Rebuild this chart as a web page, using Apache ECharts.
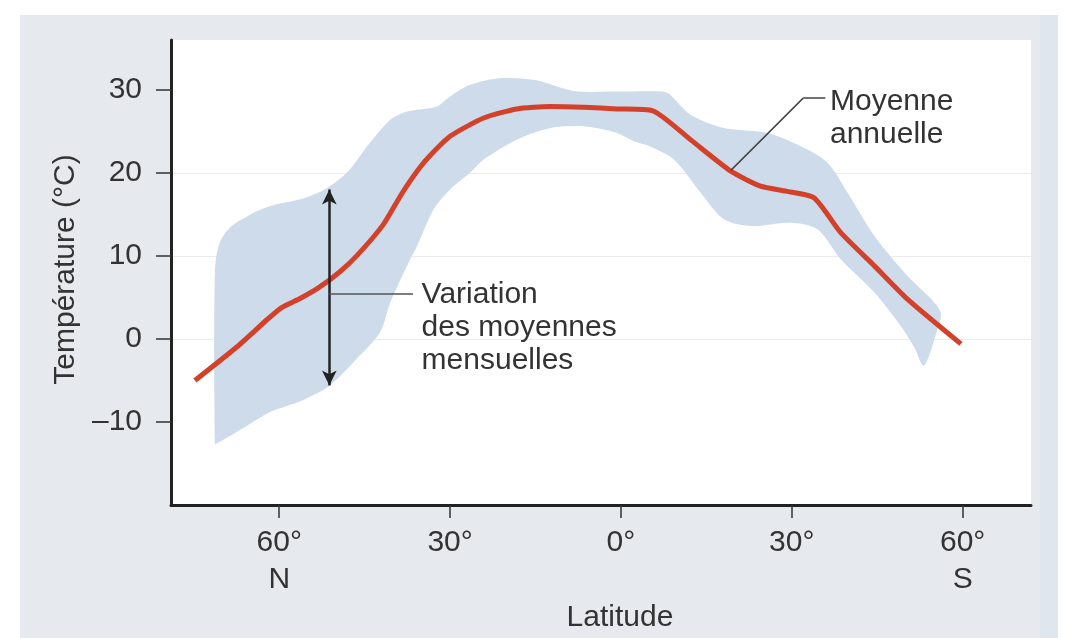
<!DOCTYPE html>
<html><head><meta charset="utf-8">
<script src="https://cdn.jsdelivr.net/npm/echarts@6/dist/echarts.min.js"></script>
<style>html,body{margin:0;padding:0;background:#fff;}#c{width:1068px;height:638px;}</style>
</head><body><div id="c"></div>
<script>
// Annual mean temperature by latitude (N negative, S positive)
const meanLat  = [-74.8, -67.5, -62, -59.5, -56.5, -53, -49.5, -46.4, -41.7, -38.2, -34.4, -30, -24.1, -18.3, -12.4, -6.5, -0.7, 5.5, 12.2, 19.3, 24.5, 29, 33.9, 38.6, 44.5, 50.3, 59.7];
const meanTemp = [-5.0, -1.0, 2.4, 3.8, 4.8, 6.2, 8.0, 10.0, 13.8, 17.8, 21.4, 24.4, 26.6, 27.7, 28.0, 27.9, 27.7, 27.5, 24.0, 20.2, 18.4, 17.8, 17.0, 12.8, 8.8, 4.8, -0.6];

// Range of monthly means: upper edge (west to east), then lower edge (east to west)
const upperLat  = [-71.3, -71.3, -70.5, -68.5, -65, -61.6, -55.8, -52, -49.5, -47.6, -44.1, -40.5, -38, -35.8, -32.3, -30, -26.5, -21.2, -15.3, -11.2, -7.7, -0.7, 7.2, 8.5, 12.2, 18.1, 25.7, 31.6, 36.3, 39.8, 44.5, 50.3, 55.0, 56.2];
const upperTemp = [-12.6, 8.0, 11.5, 13.5, 15.0, 16.0, 16.9, 18.0, 19.2, 20.4, 23.6, 26.4, 27.3, 27.6, 28.0, 29.2, 30.6, 31.4, 31.2, 30.4, 29.8, 29.8, 29.8, 29.5, 27.0, 25.4, 24.8, 23.2, 21.2, 17.6, 12.4, 7.6, 4.4, 3.0];
const lowerLat  = [55.5, 53.2, 51.5, 49.1, 44.5, 38.6, 34.5, 29.8, 22.8, 18.1, 14.0, 9.3, 5, 2.3, -0.7, -6.5, -12.4, -18.3, -24.1, -26.5, -30.0, -32.9, -35.8, -37.0, -40.5, -42.3, -46.4, -51.1, -56, -61.6, -66, -71.0];
const lowerTemp = [1.0, -3.2, -1.0, 1.6, 5.6, 9.6, 13.2, 14.0, 13.6, 14.4, 17.6, 21.6, 23.2, 23.8, 24.8, 25.6, 25.4, 24.0, 21.6, 20.0, 18.0, 15.6, 11.2, 9.6, 4.4, 0.8, -2.4, -5.6, -7.4, -8.8, -10.6, -12.6];

const xTickValues = [-60, -30, 0, 30, 60];
const xTickLabels = ['60°\nN', '30°', '0°', '30°', '60°\nS'];
const yTickValues = [-10, 0, 10, 20, 30];
const yTickLabels = ['\u201310', '0', '10', '20', '30'];

// Annotation anchors (data units)
const arrowLat = -51.2, arrowLow = -5.6, arrowHigh = 18.0;
const varLeader = [[-51.2, 5.4], [-36.5, 5.4]];
const meanLeader = [[19.3, 20.3], [32.0, 29.0], [35.9, 29.0]];
const varText = 'Variation\ndes moyennes\nmensuelles';
const varTextAnchor = [-35.0, 7.3];
const meanTextAnchor = [36.7, 30.6];
const meanText = 'Moyenne\nannuelle';

const FONT = '"Liberation Sans", Arial, Helvetica, sans-serif';
const TXT = '#333333';
const FS = 30;

const bandPts = upperLat.map((x, i) => [x, upperTemp[i]]).concat(lowerLat.map((x, i) => [x, lowerTemp[i]]));

const chart = echarts.init(document.getElementById('c'), null, {renderer: 'canvas'});
chart.setOption({
  animation: false,
  backgroundColor: '#ffffff',
  grid: {left: 171, right: 37, top: 40, bottom: 133, show: true, backgroundColor: '#ffffff', borderWidth: 0, z: 0},
  xAxis: {
    type: 'value', min: -79, max: 72,
    axisLine: {show: true, onZero: false, lineStyle: {color: '#222', width: 3}},
    axisTick: {show: true, customValues: xTickValues, length: 13, lineStyle: {color: '#333', width: 1.5}},
    axisLabel: {customValues: xTickValues, margin: 19, fontFamily: FONT, fontSize: FS, color: TXT, lineHeight: 37,
      formatter: v => xTickLabels[xTickValues.indexOf(v)] || ''},
    splitLine: {show: false},
    name: 'Latitude', nameLocation: 'middle', nameGap: 78,
    nameTextStyle: {fontFamily: FONT, fontSize: FS, color: TXT, padding: [0, 0, 0, 38]}
  },
  yAxis: {
    type: 'value', min: -20, max: 36, interval: 10,
    axisLine: {show: true, onZero: false, lineStyle: {color: '#222', width: 3}},
    axisTick: {show: true, customValues: yTickValues, length: 15, lineStyle: {color: '#333', width: 1.5}},
    axisLabel: {customValues: yTickValues, margin: 29, fontFamily: FONT, fontSize: FS, color: TXT,
      formatter: v => yTickLabels[yTickValues.indexOf(v)] || ''},
    splitLine: {show: true, showMinLine: false, showMaxLine: false, lineStyle: {color: '#ececec', width: 1}},
    name: 'Température (°C)', nameLocation: 'middle', nameRotate: 90, nameGap: 87,
    nameTextStyle: {fontFamily: FONT, fontSize: FS, color: TXT, padding: [0, 0, 0, 6]}
  },
  series: [
    {
      type: 'custom', coordinateSystem: 'cartesian2d', data: [[0, 0]], silent: true, z: 1,
      renderItem: (params, api) => ({
        type: 'polygon',
        shape: {points: bandPts.map(p => api.coord(p)), smooth: 0.3},
        style: {fill: '#cddbeb'}
      })
    },
    {
      type: 'line', data: meanLat.map((x, i) => [x, meanTemp[i]]), showSymbol: false, smooth: 0.2, z: 3,
      lineStyle: {color: '#d4412a', width: 5}, silent: true
    },
    {
      type: 'line', data: [], z: 4, silent: true,
      markLine: {
        silent: true, animation: false, symbol: ['none', 'none'], label: {show: false},
        emphasis: {disabled: true},
        data: [
          [{coord: [arrowLat, arrowLow], symbol: 'arrow', symbolSize: [11, 15], lineStyle: {color: '#222', width: 2.5, type: 'solid'}},
           {coord: [arrowLat, arrowHigh], symbol: 'arrow', symbolSize: [11, 15]}],
          [{coord: varLeader[0], lineStyle: {color: '#555', width: 1.5, type: 'solid'}}, {coord: varLeader[1]}],
          [{coord: meanLeader[0], lineStyle: {color: '#444', width: 1.5, type: 'solid'}}, {coord: meanLeader[1]}],
          [{coord: meanLeader[1], lineStyle: {color: '#444', width: 1.5, type: 'solid'}}, {coord: meanLeader[2]}]
        ]
      }
    }
  ]
});

const pv = chart.convertToPixel({gridIndex: 0}, varTextAnchor);
const pm = chart.convertToPixel({gridIndex: 0}, meanTextAnchor);
chart.setOption({
  graphic: [
    {type: 'rect', silent: true, z: -10, shape: {x: 20, y: 15, width: 1020, height: 623}, style: {fill: '#e6e9ed'}},
    {type: 'rect', silent: true, z: -10, shape: {x: 1040, y: 15, width: 18, height: 623}, style: {fill: '#e0e6ee'}},
    {type: 'text', silent: true, z: 10, x: pv[0], y: pv[1],
      style: {text: varText, font: FS + 'px ' + FONT, fill: TXT, lineHeight: 33, verticalAlign: 'top', align: 'left'}},
    {type: 'text', silent: true, z: 10, x: pm[0], y: pm[1],
      style: {text: meanText, font: FS + 'px ' + FONT, fill: TXT, lineHeight: 33, verticalAlign: 'top', align: 'left'}}
  ]
});
</script></body></html>
